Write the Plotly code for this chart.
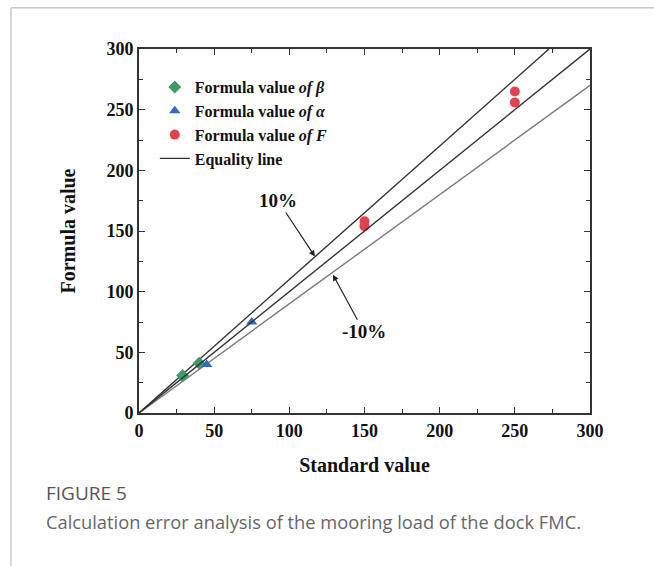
import plotly.graph_objects as go

# ---- data ----
beta_std = [29, 40]
beta_formula = [31, 41]
alpha_std = [45, 75]
alpha_formula = [40, 75]
f_std = [150, 150, 250, 250]
f_formula = [158, 154, 265, 256]

equality_x = [0, 300]
equality_y = [0, 300]
upper_x = [0, 272.7]
upper_y = [0, 300]
lower_x = [0, 300]
lower_y = [0, 270]

x_ticks = [0, 50, 100, 150, 200, 250, 300]
y_ticks = [0, 50, 100, 150, 200, 250, 300]

SERIF = "Liberation Serif, Times New Roman, serif"

fig = go.Figure()

fig.add_trace(go.Scatter(x=upper_x, y=upper_y, mode="lines",
                         line=dict(color="#333333", width=1.4),
                         showlegend=False, hoverinfo="skip"))
fig.add_trace(go.Scatter(x=lower_x, y=lower_y, mode="lines",
                         line=dict(color="#7a7a7a", width=1.4),
                         showlegend=False, hoverinfo="skip"))

fig.add_trace(go.Scatter(x=beta_std, y=beta_formula, mode="markers",
                         name="<b>Formula value <i>of β</i></b>",
                         marker=dict(symbol="diamond", size=10, color="#3f9a6b")))
fig.add_trace(go.Scatter(x=alpha_std, y=alpha_formula, mode="markers",
                         name="<b>Formula value <i>of α</i></b>",
                         marker=dict(symbol="triangle-up", size=10, color="#2f6cc0")))
fig.add_trace(go.Scatter(x=f_std, y=f_formula, mode="markers",
                         name="<b>Formula value <i>of F</i></b>",
                         marker=dict(symbol="circle", size=10, color="#e0434f")))
fig.add_trace(go.Scatter(x=equality_x, y=equality_y, mode="lines",
                         name="<b>Equality line</b>",
                         line=dict(color="#333333", width=1.4)))

axis_common = dict(
    showgrid=False, zeroline=False, showline=True, linecolor="#333333",
    linewidth=1.8, mirror="ticks", ticks="inside", ticklen=6, tickwidth=1.4,
    tickcolor="#333333",
    tickfont=dict(family=SERIF, size=18, color="#111111", weight="bold"),
    minor=dict(dtick=25, ticks="inside", ticklen=4, tickwidth=1.2, tickcolor="#333333"),
)

fig.update_xaxes(range=[0, 300], tickvals=x_ticks, ticktext=[str(v) for v in x_ticks],
                 title=dict(text="<b>Standard value</b>", standoff=18,
                            font=dict(family=SERIF, size=20, color="#111111")),
                 **axis_common)
fig.update_yaxes(range=[0, 300], tickvals=y_ticks, ticktext=[str(v) for v in y_ticks],
                 title=dict(text="<b>Formula value</b>", standoff=26,
                            font=dict(family=SERIF, size=20, color="#111111")),
                 **axis_common)

fig.add_annotation(x=117, y=129, ax=-37, ay=-56, xref="x", yref="y",
                   text="<b>10%</b>", showarrow=True, arrowhead=2, arrowsize=1,
                   arrowwidth=1.2, arrowcolor="#222222",
                   font=dict(family=SERIF, size=19, color="#111111"))
fig.add_annotation(x=129, y=114, ax=31, ay=57, xref="x", yref="y",
                   text="<b>-10%</b>", showarrow=True, arrowhead=2, arrowsize=1,
                   arrowwidth=1.2, arrowcolor="#222222",
                   font=dict(family=SERIF, size=19, color="#111111"))

# caption
fig.add_annotation(x=-0.2106, y=-0.219, xref="paper", yref="paper",
                   xanchor="left", yanchor="middle", showarrow=False,
                   text="FIGURE 5",
                   font=dict(family="Open Sans, sans-serif", size=19, color="#555555"))
fig.add_annotation(x=-0.2106, y=-0.298, xref="paper", yref="paper",
                   xanchor="left", yanchor="middle", showarrow=False,
                   text="Calculation error analysis of the mooring load of the dock FMC.",
                   font=dict(family="Open Sans, sans-serif", size=18.3, color="#666666"))

# outer frame lines
fig.add_shape(type="line", xref="paper", yref="paper",
              x0=-0.2838, x1=-0.2838, y0=1.113, y1=-0.45,
              line=dict(color="#c8c8c8", width=1.5))
fig.add_shape(type="line", xref="paper", yref="paper",
              x0=-0.2838, x1=1.16, y0=1.113, y1=1.113,
              line=dict(color="#c8c8c8", width=1.5))

fig.update_layout(
    width=654, height=566,
    margin=dict(l=139, r=64, t=49, b=153),
    paper_bgcolor="white", plot_bgcolor="white",
    showlegend=True,
    legend=dict(x=0.035, y=0.942, xanchor="left", yanchor="top",
                bgcolor="rgba(0,0,0,0)",
                font=dict(family=SERIF, size=16, color="#111111"),
                tracegroupgap=0, itemwidth=30),
)

fig.write_html("out.html", config={"displayModeBar": False},
               post_script="document.body.style.margin='0';")
